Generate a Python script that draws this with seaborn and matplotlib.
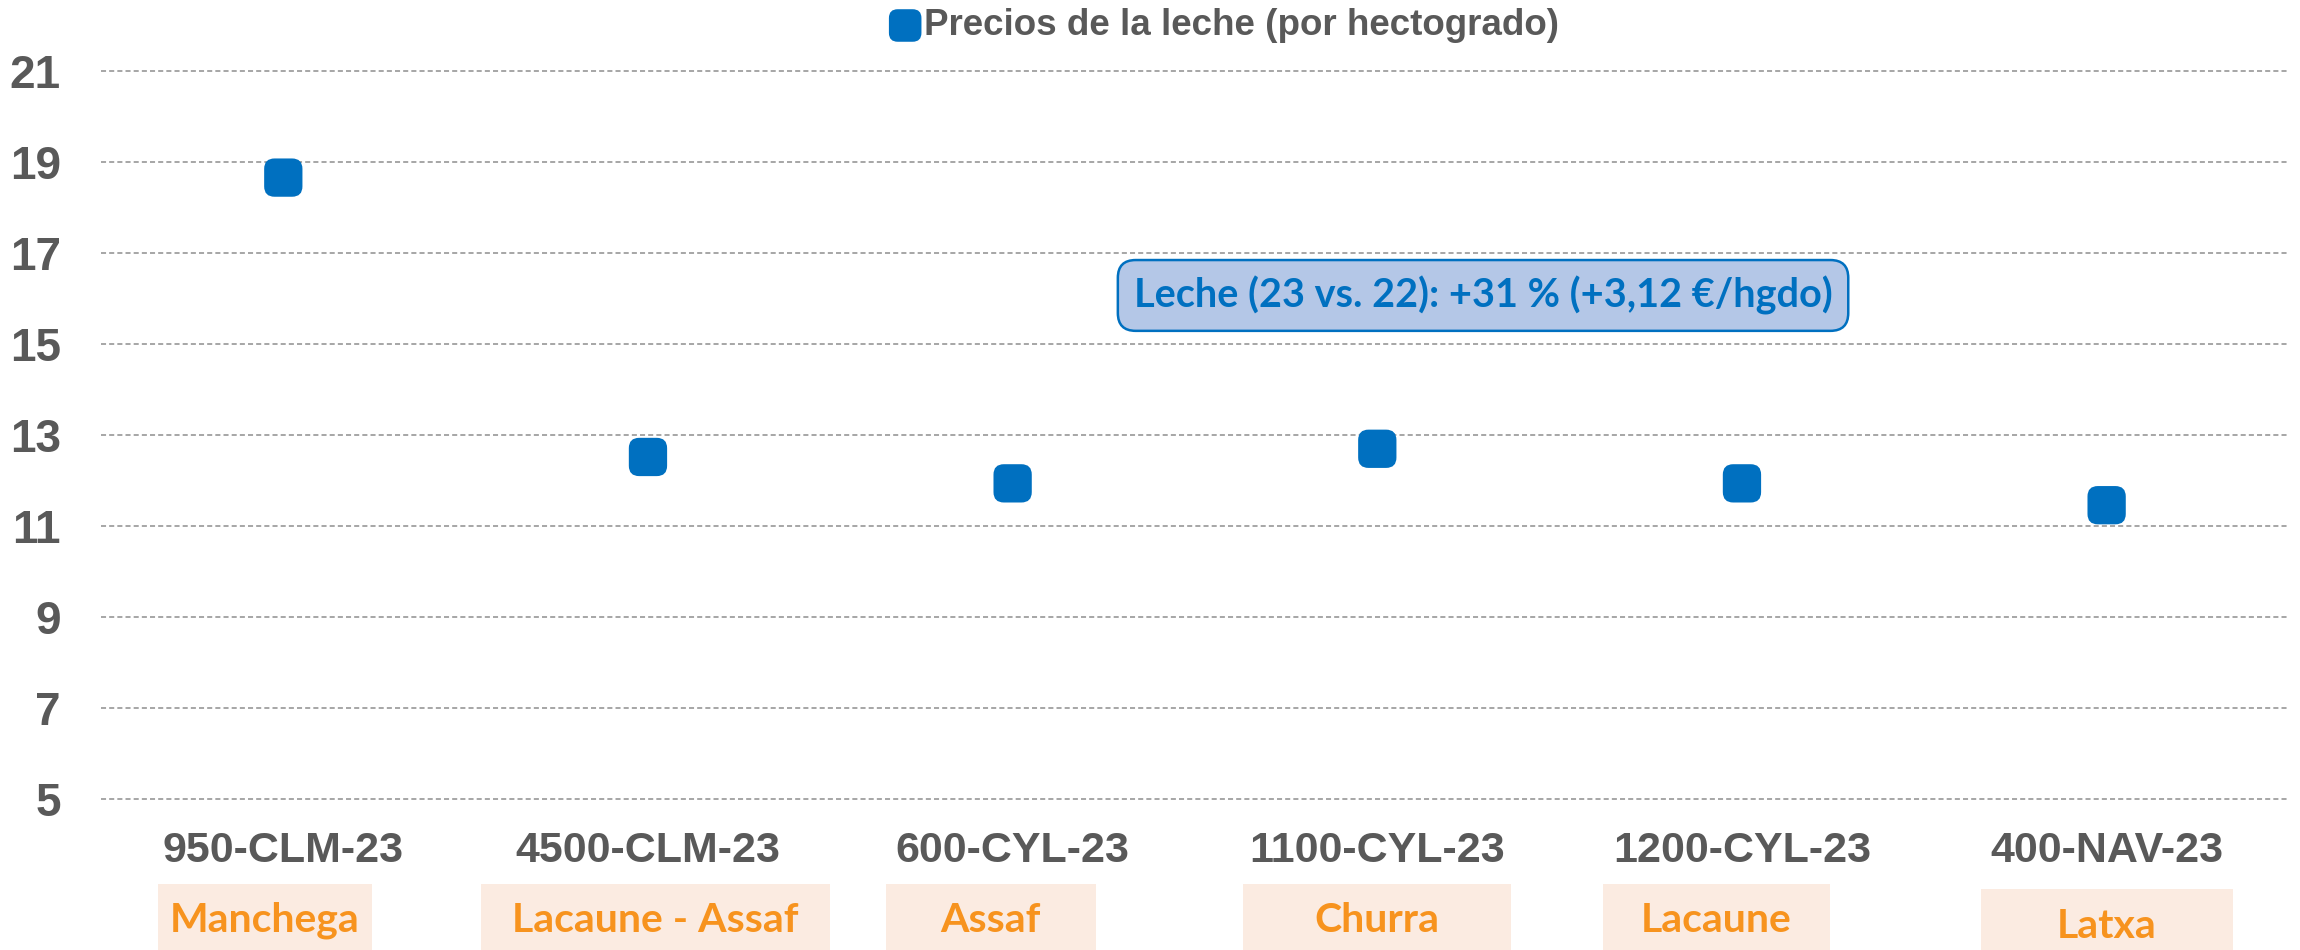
import numpy as np
import pandas as pd
import matplotlib
matplotlib.use("Agg")
import matplotlib.pyplot as plt
import seaborn as sns
from matplotlib.patches import BoxStyle, Rectangle
from matplotlib.markers import MarkerStyle
from matplotlib import transforms

# ---------------- data ----------------
farms = ["950-CLM-23", "4500-CLM-23", "600-CYL-23", "1100-CYL-23", "1200-CYL-23", "400-NAV-23"]
breeds = ["Manchega", "Lacaune - Assaf", "Assaf", "Churra", "Lacaune", "Latxa"]
milk_price = [18.65, 12.51, 11.93, 12.69, 11.93, 11.45]
y_ticks = [5, 7, 9, 11, 13, 15, 17, 19, 21]
legend_label = "Precios de la leche (por hectogrado)"
note_text = "Leche (23 vs. 22): +31 % (+3,12 €/hgdo)"

# ---------------- layout / style ----------------
BLUE = "#0070C0"
GRAY = "#595959"
ORANGE = "#F7931E"
PEACH = "#FBEBE1"
breed_box_width = [0.587, 0.957, 0.576, 0.735, 0.622, 0.691]   # data units
breed_box_offset = [-0.05, 0.02, -0.06, 0.0, -0.07, 0.0]        # data units
breed_box_top = [0.0695, 0.0695, 0.0695, 0.0695, 0.0695, 0.064]  # figure fraction
breed_text_y = [0.019, 0.019, 0.019, 0.019, 0.019, 0.013]

sns.set_theme(style="white")
plt.rcParams["font.family"] = ["Liberation Sans", "DejaVu Sans"]
plt.rcParams["font.weight"] = "bold"

fig = plt.figure(figsize=(23, 9.5), dpi=100)
ax = fig.add_axes([0.0439, 0.1593, 0.9513, 0.7663])

df = pd.DataFrame({"farm": farms, "price": milk_price})

rounded = BoxStyle.Round(pad=0.0, rounding_size=0.27)(-0.5, -0.5, 1.0, 1.0, 1.0)
marker = MarkerStyle(rounded)

sns.scatterplot(data=df, x="farm", y="price", marker=marker, s=760,
                color=BLUE, edgecolor="none", linewidth=0, ax=ax, zorder=3)

ax.set_xlim(-0.5, len(farms) - 0.5)
ax.set_ylim(5, 21)
ax.set_yticks(y_ticks)
ax.set_xlabel("")
ax.set_ylabel("")
for s in ax.spines.values():
    s.set_visible(False)

ax.yaxis.grid(True, color="#A6A6A6", linewidth=1.4, linestyle=(0, (2.6, 1.6)))
ax.xaxis.grid(False)
ax.set_axisbelow(True)
for gl in ax.get_ygridlines():
    gl.set_clip_on(False)

ax.tick_params(axis="y", length=0, pad=29, labelsize=33, labelcolor=GRAY)
ax.tick_params(axis="x", length=0, pad=23, labelsize=31, labelcolor=GRAY)
for lbl in ax.get_xticklabels() + ax.get_yticklabels():
    lbl.set_fontweight("bold")
    lbl.set_family("Liberation Sans")

# legend
handle = ax.collections[0]
leg = fig.legend(handles=[handle], labels=[legend_label], loc="center",
                 bbox_to_anchor=(0.532, 0.973), frameon=False, markerscale=0.85,
                 handletextpad=0.05, handlelength=0.9, scatterpoints=1,
                 prop=dict(family="Liberation Sans", weight="bold", size=26.5))
for t in leg.get_texts():
    t.set_color(GRAY)

# annotation box
ax.text(3.29, 16.06, note_text, ha="center", va="center", color=BLUE,
        fontsize=28.5, fontweight="bold", family="Lato", zorder=5,
        bbox=dict(boxstyle="round,pad=0.4,rounding_size=0.45", facecolor="#B4C7E7",
                  edgecolor=BLUE, linewidth=1.8))

# breed boxes under the x labels
trans = transforms.blended_transform_factory(ax.transData, fig.transFigure)
for i, b in enumerate(breeds):
    cx = i + breed_box_offset[i]
    w = breed_box_width[i]
    rect = Rectangle((cx - w / 2, -0.05), w, breed_box_top[i] + 0.05,
                     transform=trans, facecolor=PEACH, edgecolor="none",
                     clip_on=False, zorder=1)
    fig.add_artist(rect)
    fig.text(0, 0, b, transform=trans, ha="center", va="baseline",
             fontsize=29.5, fontweight="bold", family="Lato", color=ORANGE, zorder=2
             ).set_position((cx, breed_text_y[i]))

fig.savefig("out.png", dpi=100)
